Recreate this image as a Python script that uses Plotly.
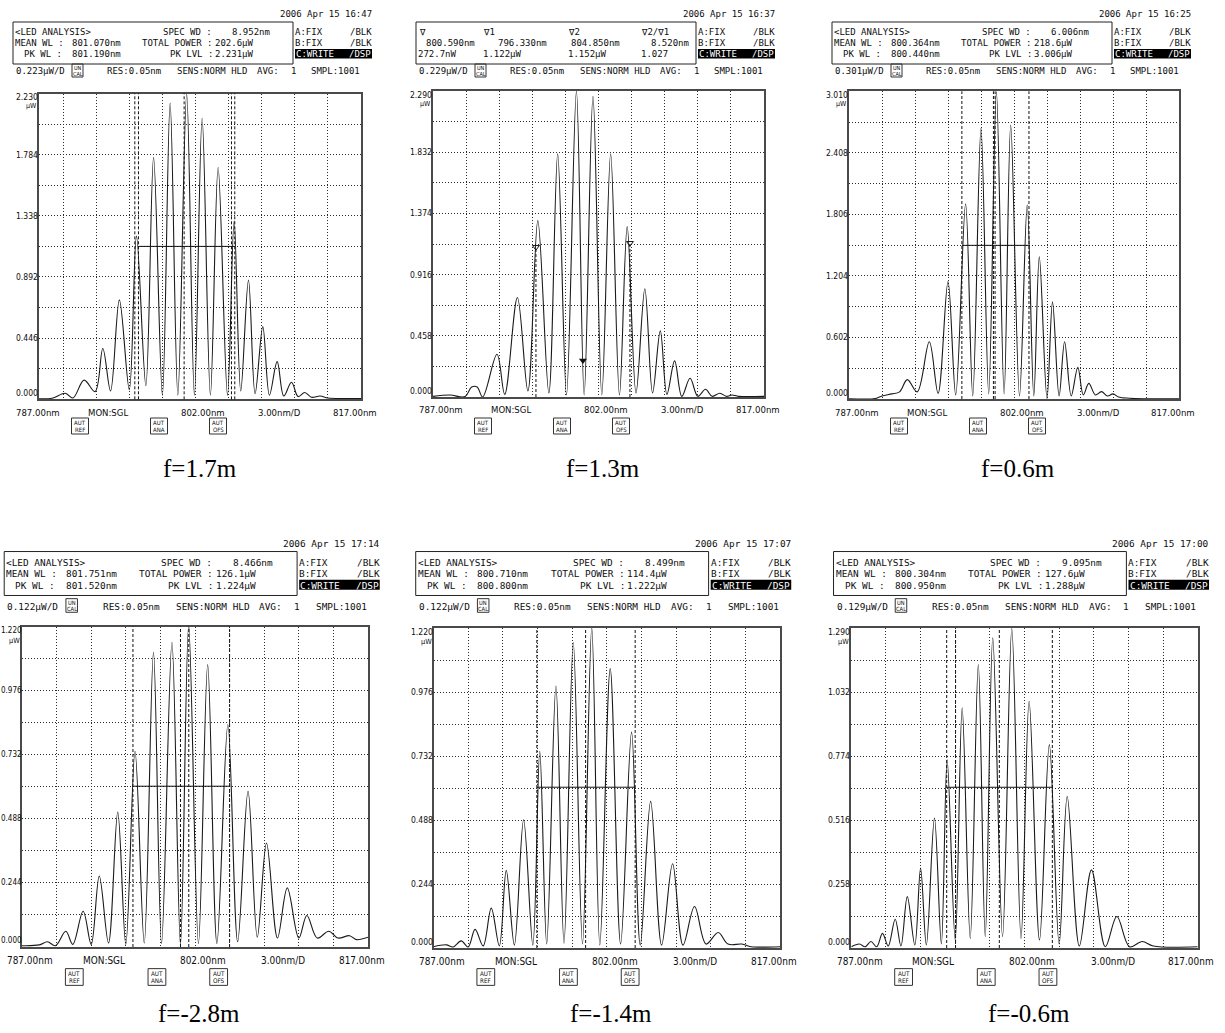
import plotly.graph_objects as go

W, H = 1225, 1033

# ---------------- data ----------------
captions = ["f=1.7m", "f=1.3m", "f=0.6m", "f=-2.8m", "f=-1.4m", "f=-0.6m"]
dates = ["2006 Apr 15 16:47", "2006 Apr 15 16:37", "2006 Apr 15 16:25",
         "2006 Apr 15 17:14", "2006 Apr 15 17:07", "2006 Apr 15 17:00"]
level_per_div = ["0.223μW/D", "0.229μW/D", "0.301μW/D", "0.122μW/D", "0.122μW/D", "0.129μW/D"]
y_top = [2.230, 2.290, 3.010, 1.220, 1.220, 1.290]
y_labels = [
    ["0.000", "0.446", "0.892", "1.338", "1.784", "2.230"],
    ["0.000", "0.458", "0.916", "1.374", "1.832", "2.290"],
    ["0.000", "0.602", "1.204", "1.806", "2.408", "3.010"],
    ["0.000", "0.244", "0.488", "0.732", "0.976", "1.220"],
    ["0.000", "0.244", "0.488", "0.732", "0.976", "1.220"],
    ["0.000", "0.258", "0.516", "0.774", "1.032", "1.290"],
]
spec_wd = ["8.952nm", "", "6.006nm", "8.466nm", "8.499nm", "9.095nm"]
mean_wl = ["801.070nm", "", "800.364nm", "801.751nm", "800.710nm", "800.304nm"]
total_power = ["202.6μW", "", "218.6μW", "126.1μW", "114.4μW", "127.6μW"]
pk_wl = ["801.190nm", "", "800.440nm", "801.520nm", "800.800nm", "800.950nm"]
pk_lvl = ["2.231μW", "", "3.006μW", "1.224μW", "1.222μW", "1.288μW"]

marker_heads = ["∇", "∇1", "∇2", "∇2/∇1"]
marker_wl_text = ["800.590nm", "796.330nm", "804.850nm", "8.520nm"]
marker_lvl_text = ["272.7nW", "1.122μW", "1.152μW", "1.027"]
marker_wl = [800.59, 796.33, 804.85]
marker_lvl = [0.2727, 1.122, 1.152]

x_axis_texts = ["787.00nm", "MON:SGL", "802.00nm", "3.00nm/D", "817.00nm"]
aut_labels = ["REF", "ANA", "OFS"]

# spectra: peak / valley points (wavelength nm, power uW)
wl1 = [787.8, 789.0, 790.2, 790.9, 791.9, 792.9, 793.6, 794.3, 795.1, 796.0, 796.65, 797.5,
       798.2, 799.0, 799.7, 800.4, 801.2, 801.9, 802.6, 803.35, 804.05, 804.9, 805.5, 806.1,
       806.8, 807.4, 808.1, 808.7, 809.4, 810.0, 810.7, 811.3, 811.9, 812.5, 813.3, 814.0,
       815.5, 817.0]
pw1 = [0.004, 0.008, 0.044, 0.010, 0.140, 0.056, 0.370, 0.060, 0.725, 0.070, 1.190, 0.100,
       1.765, 0.030, 2.160, 0.030, 2.228, 0.030, 2.050, 0.030, 1.690, 0.030, 1.300, 0.060,
       0.870, 0.040, 0.530, 0.030, 0.275, 0.024, 0.124, 0.020, 0.050, 0.015, 0.024, 0.010,
       0.006, 0.006]

wl2 = [787.0, 788.55, 789.9, 790.5, 791.0, 791.5, 792.8, 793.5, 794.65, 795.6, 796.5, 797.5,
       798.3, 799.1, 800.0, 800.7, 801.5, 802.3, 803.1, 803.9, 804.6, 805.4, 806.2, 806.9,
       807.6, 808.2, 808.9, 809.55, 810.3, 811.0, 811.7, 812.3, 813.0, 813.6, 814.1, 814.7,
       817.0]
pw2 = [0.005, 0.015, 0.003, 0.075, 0.075, 0.000, 0.320, 0.020, 0.745, 0.045, 1.320, 0.030,
       1.820, 0.015, 2.290, 0.015, 2.250, 0.015, 1.820, 0.015, 1.275, 0.030, 0.810, 0.030,
       0.495, 0.020, 0.270, 0.005, 0.140, 0.005, 0.058, 0.005, 0.028, 0.005, 0.015, 0.005,
       0.005]

wl3 = [787.0, 789.4, 790.0, 790.9, 791.6, 792.3, 793.2, 794.3, 795.1, 796.0, 796.7, 797.6,
       798.25, 799.0, 799.7, 800.4, 801.1, 801.7, 802.5, 803.2, 803.8, 804.3, 805.0, 805.5,
       806.1, 806.6, 807.2, 807.8, 808.3, 808.8, 809.4, 809.95, 810.5, 811.0, 811.5, 812.5,
       817.0]
pw3 = [0.003, 0.005, 0.030, 0.050, 0.070, 0.190, 0.070, 0.560, 0.055, 1.150, 0.040, 1.910,
       0.030, 2.650, 0.050, 3.007, 0.050, 2.680, 0.030, 1.900, 0.030, 1.390, 0.006, 0.950,
       0.030, 0.560, 0.030, 0.310, 0.040, 0.153, 0.040, 0.072, 0.030, 0.050, 0.020, 0.008,
       0.003]

wl4 = [787.0, 788.5, 789.2, 789.9, 790.8, 791.4, 792.3, 793.0, 793.7, 794.5, 795.3, 796.0,
       796.8, 797.6, 798.4, 799.1, 800.0, 800.74, 801.45, 802.3, 803.1, 803.9, 804.85, 805.7,
       806.6, 807.4, 808.2, 809.15, 810.0, 811.0, 811.7, 812.6, 813.6, 814.4, 815.4, 816.0,
       817.0]
pw4 = [0.005, 0.008, 0.020, 0.005, 0.060, 0.010, 0.136, 0.010, 0.270, 0.015, 0.514, 0.010,
       0.745, 0.015, 1.122, 0.013, 1.160, 0.009, 1.224, 0.013, 1.075, 0.013, 0.847, 0.020,
       0.593, 0.037, 0.396, 0.034, 0.225, 0.034, 0.120, 0.034, 0.060, 0.034, 0.043, 0.028,
       0.037]

wl5 = [787.0, 788.1, 788.7, 789.4, 790.0, 790.6, 791.3, 792.0, 792.7, 793.3, 794.0, 794.8,
       795.6, 796.2, 796.8, 797.6, 798.3, 799.1, 799.9, 800.7, 801.4, 802.3, 803.2, 804.15,
       804.9, 805.8, 806.75, 807.7, 808.6, 809.6, 810.6, 811.65, 812.5, 813.7, 814.5, 817.0]
pw5 = [0.005, 0.012, 0.004, 0.027, 0.004, 0.071, 0.008, 0.152, 0.008, 0.296, 0.011, 0.489,
       0.011, 0.750, 0.015, 0.999, 0.018, 1.165, 0.015, 1.222, 0.011, 1.065, 0.015, 0.823,
       0.011, 0.559, 0.011, 0.321, 0.011, 0.158, 0.015, 0.059, 0.015, 0.015, 0.005, 0.005]

wl6 = [787.0, 787.7, 788.2, 788.7, 789.2, 789.7, 790.2, 790.8, 791.3, 791.85, 792.5, 793.0,
       793.5, 794.2, 794.8, 795.3, 796.0, 796.6, 797.3, 798.0, 798.6, 799.25, 800.1, 800.9,
       801.7, 802.4, 803.3, 804.15, 805.0, 805.7, 806.75, 807.8, 809.0, 810.0, 811.1, 812.2,
       813.15, 817.0]
pw6 = [0.005, 0.016, 0.005, 0.026, 0.005, 0.059, 0.008, 0.116, 0.008, 0.207, 0.012, 0.322,
       0.012, 0.524, 0.016, 0.759, 0.032, 0.968, 0.039, 1.143, 0.046, 1.250, 0.046, 1.288,
       0.039, 0.995, 0.032, 0.820, 0.016, 0.611, 0.008, 0.315, 0.005, 0.127, 0.005, 0.026,
       0.008, 0.005]

# analysis marker lines (dashed verticals) and half-level bar
mark_lines = [
    [796.50, 796.83, 800.97, 805.26, 805.56],
    [],
    [797.26, 800.13, 800.28, 803.36],
    [796.62, 800.74, 801.46, 805.00],
    [795.95, 800.17, 804.46],
    [795.26, 796.03, 799.82, 804.41],
]
half_level = [1.115, None, 1.503, 0.612, 0.613, 0.648]
half_span = [(796.83, 805.56), None, (797.26, 803.36), (796.70, 805.06), (796.00, 804.47), (795.26, 804.41)]

series = [(wl1, pw1), (wl2, pw2), (wl3, pw3), (wl4, pw4), (wl5, pw5), (wl6, pw6)]

# ---------------- geometry (pixels) ----------------
geo = [
    dict(L=30, Lf=39, R=361, T=93.5, B=399.3, s=1.0, y1=32, y4=71, yaut=426, ycap=468),
    dict(L=433, Lf=433, R=764, T=91.0, B=397.0, s=1.0, y1=32, y4=71, yaut=426, ycap=468),
    dict(L=849, Lf=849, R=1179, T=91.3, B=399.0, s=1.0, y1=32, y4=71, yaut=426, ycap=468),
    dict(L=22, Lf=22, R=368, T=626.5, B=947.0, s=1.046, y1=562, y4=606, yaut=977, ycap=1013),
    dict(L=433.5, Lf=433.5, R=780, T=628, B=948.0, s=1.046, y1=562, y4=606, yaut=977, ycap=1013),
    dict(L=851.3, Lf=851.3, R=1197.7, T=628, B=948.0, s=1.046, y1=562, y4=606, yaut=977, ycap=1013),
]

MONO = "DejaVu Sans Mono"
COND = "Liberation Sans Narrow, DejaVu Sans Condensed, sans-serif"
SERIF = "Liberation Serif"
INK = "#0d0d0d"

anns = []
shapes = []


def px(x):
    return x / W


def py(y):
    return 1 - y / H


def text(x, y, t, size, anchor="left", color=INK, family=MONO):
    anns.append(dict(x=px(x), y=py(y), xref="paper", yref="paper", text=t, showarrow=False,
                     xanchor=anchor, yanchor="middle", borderpad=0, borderwidth=0,
                     font=dict(family=family, size=size, color=color)))


def rect(x0, y0, x1, y1, line="#222", fill=None, width=1):
    shapes.append(dict(type="rect", xref="paper", yref="paper", x0=px(x0), x1=px(x1),
                       y0=py(y1), y1=py(y0), line=dict(color=line, width=width),
                       fillcolor=fill if fill else "rgba(0,0,0,0)", layer="above"))


fig = go.Figure()

for i, g in enumerate(geo):
    n = "" if i == 0 else str(i + 1)
    s = g["s"]
    L, Lf, R, T, B = g["L"], g["Lf"], g["R"], g["T"], g["B"]
    Wp = R - L
    BL = L - 17 * s
    fs = 9 * s

    xs, ys = series[i]
    fig.add_trace(go.Scatter(x=xs, y=ys, mode="lines", hoverinfo="skip",
                             line=dict(shape="spline", smoothing=1.0, color="#1a1a1a", width=1.1),
                             xaxis="x" + n, yaxis="y" + n))

    xr0 = 787 + (Lf - L) / Wp * 30
    grid = dict(showgrid=True, gridcolor="#2a2a2a", griddash="1px,2px", gridwidth=1,
                showticklabels=False, ticks="", zeroline=False, showline=True, mirror=True,
                linecolor="#4a4a4a", linewidth=1.5, fixedrange=True)
    fig.update_layout(**{
        "xaxis" + n: dict(domain=[Lf / W, R / W], range=[xr0, 817], tick0=787, dtick=3,
                          anchor="y" + n, **grid),
        "yaxis" + n: dict(domain=[py(B), py(T)], range=[0, y_top[i]], tick0=0,
                          dtick=y_top[i] / 10, anchor="x" + n, **grid),
    })

    yref_dom = "y" + n + " domain"
    for xv in mark_lines[i]:
        shapes.append(dict(type="line", xref="x" + n, yref=yref_dom, x0=xv, x1=xv, y0=0, y1=1,
                           line=dict(color="#111", width=1, dash="3px,2px")))
    if half_level[i] is not None:
        a, b = half_span[i]
        shapes.append(dict(type="line", xref="x" + n, yref="y" + n, x0=a, x1=b,
                           y0=half_level[i], y1=half_level[i], line=dict(color="#111", width=1)))

    # ----- header -----
    y1 = g["y1"]
    y2 = y1 + 11 * s
    y3 = y1 + 22 * s
    text(BL + 359 * s, y1 - 18 * s, dates[i], fs, "right")
    rect(BL, y1 - 10 * s, BL + 280 * s, y1 + 32 * s, line="#222", width=1)
    if i == 1:
        lefts = [3, 67, 152, 225]
        for k in range(4):
            text(BL + lefts[k] * s, y1, marker_heads[k], fs)
        text(BL + 10 * s, y2, marker_wl_text[0], fs)
        text(BL + 82 * s, y2, marker_wl_text[1], fs)
        text(BL + 155 * s, y2, marker_wl_text[2], fs)
        text(BL + 273 * s, y2, marker_wl_text[3], fs, "right")
        lefts3 = [2, 67, 152, 225]
        for k in range(4):
            text(BL + lefts3[k] * s, y3, marker_lvl_text[k], fs)
    else:
        text(BL + 2 * s, y1, "&lt;LED ANALYSIS&gt;", fs)
        text(BL + 150 * s, y1, "SPEC WD :", fs)
        text(BL + 257 * s, y1, spec_wd[i], fs, "right")
        text(BL + 2 * s, y2, "MEAN WL :", fs)
        text(BL + 59 * s, y2, mean_wl[i], fs)
        text(BL + 129 * s, y2, "TOTAL POWER :", fs)
        text(BL + 202 * s, y2, total_power[i], fs)
        text(BL + 49 * s, y3, "PK WL :", fs, "right")
        text(BL + 59 * s, y3, pk_wl[i], fs)
        text(BL + 200 * s, y3, "PK LVL :", fs, "right")
        text(BL + 202 * s, y3, pk_lvl[i], fs)
    text(BL + 282 * s, y1, "A:FIX", fs)
    text(BL + 359 * s, y1, "/BLK", fs, "right")
    text(BL + 282 * s, y2, "B:FIX", fs)
    text(BL + 359 * s, y2, "/BLK", fs, "right")
    rect(BL + 282 * s, y3 - 5 * s, BL + 359 * s, y3 + 4.5 * s, line="#000", fill="#000", width=0)
    text(BL + 283 * s, y3, "C:WRITE", fs, color="#fff")
    text(BL + 358 * s, y3, "/DSP", fs, "right", color="#fff")

    y4 = g["y4"]
    text(BL + 3 * s, y4, level_per_div[i], fs)
    rect(BL + 59 * s, y4 - 7 * s, BL + 70 * s, y4 + 6 * s, line="#333", width=1)
    text(BL + 64.5 * s, y4 - 3.2 * s, "UN", 5.5 * s, "center", family=COND)
    text(BL + 64.5 * s, y4 + 2.6 * s, "CAL", 5.5 * s, "center", family=COND)
    text(BL + 94 * s, y4, "RES:0.05nm", fs)
    text(BL + 164 * s, y4, "SENS:NORM HLD", fs)
    text(BL + 244 * s, y4, "AVG:", fs)
    text(BL + 280 * s, y4, "1", fs, "center")
    text(BL + 347 * s, y4, "SMPL:1001", fs, "right")

    # ----- y tick labels -----
    for k, lab in enumerate(y_labels[i]):
        yy = B - k * (B - T) / 5
        if k == 0:
            yy = B - 6 * s
        if k == 5:
            yy = T + 4 * s
        if Lf < 30:
            text(1, yy, lab, 8, "left", family=COND)
        else:
            text(Lf - 1, yy, lab, 8.5, "right", family=COND)
    text(Lf - 2, T + 13 * s, "μW", 7 * s, "right", family=COND)

    # ----- x labels -----
    fr = [0.024, 0.237, 0.523, 0.755, 0.982]
    for k, lab in enumerate(x_axis_texts):
        text(L + fr[k] * Wp, B + 13 * s, lab, 9.5 * s, "center", family=COND)

    # ----- AUT boxes -----
    for k, off in enumerate([50, 129, 188]):
        cx = L + off * s
        cy = g["yaut"]
        rect(cx - 8.5 * s, cy - 8 * s, cx + 8.5 * s, cy + 8 * s, line="#333", width=1)
        text(cx, cy - 3.6 * s, "AUT", 6 * s, "center", family=COND)
        text(cx, cy + 3.6 * s, aut_labels[k], 6 * s, "center", family=COND)

    # ----- caption -----
    text((L + R) / 2 + 4, g["ycap"], captions[i], 25, "center", color="#000", family=SERIF)

# P2 markers
fig.add_trace(go.Scatter(x=marker_wl[:1], y=marker_lvl[:1], mode="markers", hoverinfo="skip",
                         marker=dict(symbol="triangle-down", size=7, color="#111"),
                         xaxis="x2", yaxis="y2"))
fig.add_trace(go.Scatter(x=marker_wl[1:], y=marker_lvl[1:], mode="markers", hoverinfo="skip",
                         marker=dict(symbol="triangle-down-open", size=6, color="#111",
                                     line=dict(width=1)),
                         xaxis="x2", yaxis="y2"))
for xv, yv in zip(marker_wl[1:], marker_lvl[1:]):
    shapes.append(dict(type="line", xref="x2", yref="y2", x0=xv, x1=xv, y0=0, y1=yv,
                       line=dict(color="#111", width=1, dash="3px,2px")))

fig.update_layout(width=W, height=H, margin=dict(l=0, r=0, t=0, b=0),
                  paper_bgcolor="white", plot_bgcolor="white", showlegend=False,
                  annotations=anns, shapes=shapes)

fig.write_html("out.html")
